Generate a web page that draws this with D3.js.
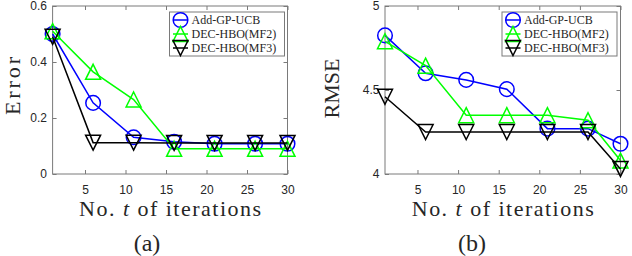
<!DOCTYPE html>
<html lang="en">
<head>
    <meta charset="UTF-8">
    <title>Error and RMSE vs iterations</title>
    <script src="https://d3js.org/d3.v7.min.js"></script>
    <style>
        body { margin: 0; background: #fff; }
        .tick text { font-family: "Liberation Sans", Arial, sans-serif; font-size: 12px; fill: #262626; }
        .tick line { stroke: #7a7a7a; }
        .lbl { font-family: "Liberation Serif", "Times New Roman", serif; fill: #262626; }
    </style>
</head>
<body>
    <div id="chart"></div>
    <script>
        // data
        const iters = [1, 6, 11, 16, 21, 26, 30];
        const seriesNames = ['Add-GP-UCB', 'DEC-HBO(MF2)', 'DEC-HBO(MF3)'];
        const errAdd = [0.50, 0.254, 0.131, 0.115, 0.108, 0.108, 0.108];
        const errMF2 = [0.51, 0.365, 0.266, 0.09, 0.09, 0.09, 0.09];
        const errMF3 = [0.49, 0.112, 0.112, 0.111, 0.111, 0.111, 0.111];
        const rmseAdd = [4.825, 4.60, 4.56, 4.505, 4.27, 4.27, 4.18];
        const rmseMF2 = [4.79, 4.645, 4.35, 4.35, 4.35, 4.32, 4.08];
        const rmseMF3 = [4.46, 4.25, 4.25, 4.25, 4.25, 4.25, 4.03];
        const xTicks = [5, 10, 15, 20, 25, 30];
        const errTicks = [0, 0.2, 0.4, 0.6];
        const rmseTicks = [4, 4.5, 5];

        const colors = ['#0000ff', '#00ff00', '#000000'];
        const markers = ['circle', 'up', 'down'];

        const width = 632, height = 256;
        const svg = d3.select('#chart').append('svg')
            .attr('width', width).attr('height', height);

        const panels = [
            { x0: 52.6, x1: 287.5, ylab: 'Error', tag: '(a)', tagX: 147, ylabX: 19.5, ylabY: 86, ylabLen: 58,
              ydom: [0, 0.6], yticks: errTicks, series: [errAdd, errMF2, errMF3], legX: 169.5 },
            { x0: 385, x1: 620.5, ylab: 'RMSE', tag: '(b)', tagX: 472, ylabX: 339, ylabY: 88.5, ylabLen: 60,
              ydom: [4, 5], yticks: rmseTicks, series: [rmseAdd, rmseMF2, rmseMF3], legX: 502 }
        ];
        const plotTop = 6, plotBottom = 174;

        const markerPath = (kind, s) => {
            const h = s / 2;
            if (kind === 'up') return `M0,${-h}L${h},${h}L${-h},${h}Z`;
            return `M0,${h}L${h},${-h}L${-h},${-h}Z`;
        };

        const drawMarker = (g, kind, color, cx, cy) => {
            if (kind === 'circle') {
                g.append('circle').attr('cx', cx).attr('cy', cy).attr('r', 7.3)
                    .attr('fill', 'none').attr('stroke', color).attr('stroke-width', 1.5);
            } else {
                g.append('path').attr('d', markerPath(kind, 15))
                    .attr('transform', `translate(${cx},${cy})`)
                    .attr('fill', 'none').attr('stroke', color).attr('stroke-width', 1.5);
            }
        };

        panels.forEach(p => {
            const x = d3.scaleLinear().domain([1, 30]).range([p.x0, p.x1]);
            const y = d3.scaleLinear().domain(p.ydom).range([plotBottom, plotTop]);
            const g = svg.append('g');

            // axes, ticks pointing inward on all four sides
            g.append('g').attr('transform', `translate(0,${plotBottom})`)
                .call(d3.axisBottom(x).tickValues(xTicks).tickSize(-4).tickPadding(11.5));
            g.append('g').attr('transform', `translate(0,${plotTop})`)
                .call(d3.axisTop(x).tickValues(xTicks).tickSize(-4).tickFormat(''));
            g.append('g').attr('transform', `translate(${p.x0},0)`)
                .call(d3.axisLeft(y).tickValues(p.yticks).tickSize(-4).tickPadding(5.6).tickFormat(d3.format('')));
            g.append('g').attr('transform', `translate(${p.x1},0)`)
                .call(d3.axisRight(y).tickValues(p.yticks).tickSize(-4).tickFormat(''));
            g.selectAll('.domain').remove();
            g.append('rect').attr('x', p.x0).attr('y', plotTop)
                .attr('width', p.x1 - p.x0).attr('height', plotBottom - plotTop)
                .attr('fill', 'none').attr('stroke', '#7a7a7a').attr('stroke-width', 1);

            // series
            const line = d3.line().x((d, i) => x(iters[i])).y(d => y(d));
            p.series.forEach((vals, k) => {
                g.append('path').datum(vals).attr('d', line)
                    .attr('fill', 'none').attr('stroke', colors[k]).attr('stroke-width', 1.5);
                vals.forEach((v, i) => drawMarker(g, markers[k], colors[k], x(iters[i]), y(v)));
            });

            // legend
            const lg = g.append('g');
            lg.append('rect').attr('x', p.legX).attr('y', 12).attr('width', 115).attr('height', 44)
                .attr('fill', '#fff').attr('stroke', '#7a7a7a').attr('stroke-width', 1);
            seriesNames.forEach((name, k) => {
                const cy = 20 + k * 14;
                const mx = p.legX + 11;
                lg.append('line').attr('x1', mx - 7.5).attr('x2', mx + 7.5).attr('y1', cy).attr('y2', cy)
                    .attr('stroke', colors[k]).attr('stroke-width', 1.5);
                drawMarker(lg, markers[k], colors[k], mx, cy);
                lg.append('text').attr('class', 'lbl').attr('x', p.legX + 22).attr('y', cy + 4)
                    .style('font-size', '12px').text(name);
            });

            // labels
            const xl = g.append('text').attr('class', 'lbl')
                .attr('x', (p.x0 + p.x1) / 2).attr('y', 216).attr('text-anchor', 'middle')
                .attr('textLength', 182).attr('lengthAdjust', 'spacing')
                .style('font-size', '22px');
            xl.append('tspan').text('No. ');
            xl.append('tspan').style('font-style', 'italic').text('t');
            xl.append('tspan').text(' of iterations');

            g.append('text').attr('class', 'lbl')
                .attr('transform', `translate(${p.ylabX},${p.ylabY}) rotate(-90)`)
                .attr('text-anchor', 'middle').attr('textLength', p.ylabLen).attr('lengthAdjust', 'spacing')
                .style('font-size', '22px').text(p.ylab);

            g.append('text').attr('class', 'lbl')
                .attr('x', p.tagX).attr('y', 251).attr('text-anchor', 'middle')
                .style('font-size', '24px').text(p.tag);
        });
    </script>
</body>
</html>
